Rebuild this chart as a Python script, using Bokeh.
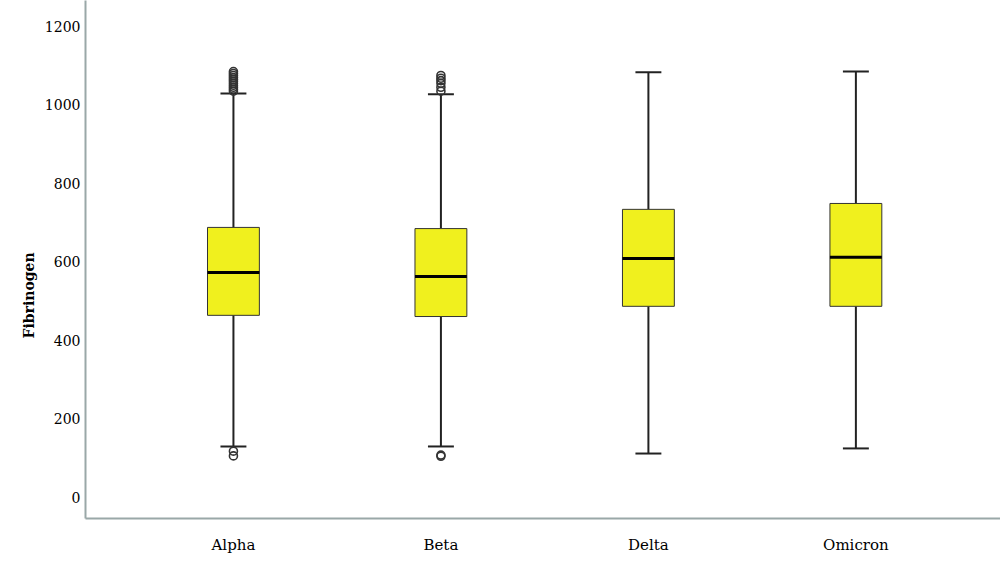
from bokeh.plotting import figure
from bokeh.models import Range1d, Title, FixedTicker
from bokeh.embed import file_html
from bokeh.resources import INLINE

categories = ["Alpha", "Beta", "Delta", "Omicron"]
q1 = [464, 461, 487, 487]
median = [573, 563, 609, 612]
q3 = [688, 685, 734, 749]
lower = [130, 130, 112, 125]
upper = [1029, 1027, 1083, 1085]
outlier_cat = ["Alpha"] * 13 + ["Beta"] * 8
outlier_val = [1035, 1040, 1045, 1050, 1055, 1060, 1065, 1070, 1075, 1080, 1085, 118, 106,
               1035, 1045, 1055, 1062, 1068, 1075, 108, 105]
y_ticks = [0, 200, 400, 600, 800, 1000, 1200]

xs = list(range(1, len(categories) + 1))
pos = {c: i for c, i in zip(categories, xs)}
box_w = 0.25
cap_w = 0.125

FONT = "DejaVu Serif"

p = figure(width=1000, height=556, output_backend="svg", toolbar_location=None,
           x_range=Range1d(0.287, 4.697), y_range=Range1d(-53.5, 1266),
           min_border_left=85, min_border_right=0, min_border_top=0, min_border_bottom=38)
p.outline_line_color = None
p.background_fill_color = "white"
p.xgrid.grid_line_color = None
p.ygrid.grid_line_color = None

# whiskers
p.segment(x0=xs, y0=lower, x1=xs, y1=q1, line_color="#222222", line_width=2)
p.segment(x0=xs, y0=q3, x1=xs, y1=upper, line_color="#222222", line_width=2)
p.segment(x0=[x - cap_w / 2 for x in xs], y0=lower, x1=[x + cap_w / 2 for x in xs], y1=lower,
          line_color="#222222", line_width=2)
p.segment(x0=[x - cap_w / 2 for x in xs], y0=upper, x1=[x + cap_w / 2 for x in xs], y1=upper,
          line_color="#222222", line_width=2)
# boxes
p.vbar(x=xs, width=box_w, bottom=q1, top=q3, fill_color="#f0f01e", line_color="#333333", line_width=1)
# medians
p.segment(x0=[x - box_w / 2 for x in xs], y0=median, x1=[x + box_w / 2 for x in xs], y1=median,
          line_color="#000000", line_width=3)
# outliers
p.scatter(x=[pos[c] for c in outlier_cat], y=outlier_val, marker="circle", size=8,
          fill_color=None, line_color="#333333", line_width=1.6)

p.xaxis.ticker = FixedTicker(ticks=xs)
p.xaxis.major_label_overrides = {x: c for x, c in zip(xs, categories)}
p.yaxis.ticker = FixedTicker(ticks=y_ticks)
for ax in (p.xaxis, p.yaxis):
    ax.axis_line_color = "#9aa8a8"
    ax.axis_line_width = 2
    ax.major_tick_line_color = None
    ax.minor_tick_line_color = None
    ax.major_tick_out = 0
    ax.major_tick_in = 0
    ax.major_label_text_font = FONT
    ax.major_label_text_color = "#000000"
p.xaxis.major_label_text_font_size = "15px"
p.xaxis.major_label_standoff = 17
p.yaxis.major_label_text_font_size = "14px"
p.yaxis.major_label_standoff = 5

p.add_layout(Title(text="Fibrinogen", align="left", offset=180, text_font=FONT,
                   text_font_size="14px", text_font_style="bold", text_color="#000000"), "left")

open("out.html", "w").write(file_html(p, INLINE))
